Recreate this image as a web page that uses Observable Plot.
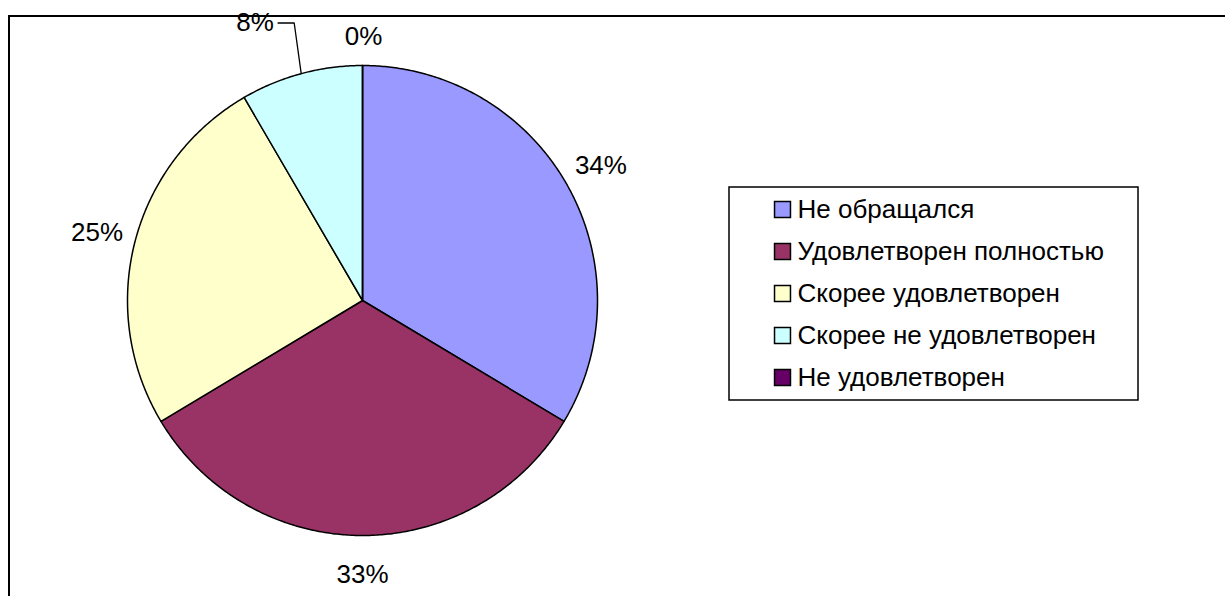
<!DOCTYPE html>
<html><head><meta charset="utf-8">
<script src="https://cdn.jsdelivr.net/npm/d3@7"></script>
<script src="https://cdn.jsdelivr.net/npm/@observablehq/plot@0.6"></script>
<style>html,body{margin:0;padding:0;background:#fff;overflow:hidden}</style>
</head><body><div id="chart"></div>
<script>
// ---- data ----
const categories = ["Не обращался", "Удовлетворен полностью", "Скорее удовлетворен", "Скорее не удовлетворен", "Не удовлетворен"];
const values = [33.6, 32.8, 25.2, 8.4, 0];
const labels = ["34%", "33%", "25%", "8%", "0%"];
const colors = ["#9999FF", "#993366", "#FFFFCC", "#CCFFFF", "#660066"];

// ---- layout ----
const W = 1225, H = 596, CX = 362, CY = 300, R = 235, LABEL_R = R + 39;
const FONT = "'Liberation Sans', Arial, sans-serif";
const FS = 26;
const labelNudge = {3: {dx: -36, dy: -13}, 4: {dx: 1, dy: 10}}; // manual label moves as in reference
const LEG = {x: 729, y: 187, w: 409, h: 213, sqX: 782, txtX: 797, row0: 209, step: 42};

const total = d3.sum(values);
let acc = 0;
const slices = categories.map((c, i) => {
  const a0 = acc / total * 2 * Math.PI; acc += values[i];
  const a1 = acc / total * 2 * Math.PI;
  return {cat: c, a0, a1, mid: (a0 + a1) / 2, label: labels[i], i};
});
const polyPts = [];
slices.forEach(s => {
  polyPts.push({cat: s.cat, x: CX, y: CY});
  const n = Math.max(1, Math.ceil((s.a1 - s.a0) / (Math.PI / 360)));
  for (let k = 0; k <= n; k++) {
    const a = s.a0 + (s.a1 - s.a0) * k / n;
    polyPts.push({cat: s.cat, x: CX + R * Math.sin(a), y: CY - R * Math.cos(a)});
  }
});
const labelPts = slices.map(s => {
  const nud = labelNudge[s.i] || {dx: 0, dy: 0};
  return {label: s.label, i: s.i, mid: s.mid,
    x: CX + LABEL_R * Math.sin(s.mid) + nud.dx, y: CY - LABEL_R * Math.cos(s.mid) + nud.dy};
});
// leader line for moved 8% label
const s8 = slices[3], l8 = labelPts[3];
const ax = CX + R * Math.sin(s8.mid), ay = CY - R * Math.cos(s8.mid);
const leader = [{x: ax, y: ay}, {x: ax - 7, y: l8.y}, {x: l8.x + 23, y: l8.y}];

const legendRows = categories.map((c, i) => ({cat: c, y: LEG.row0 + i * LEG.step}));

const chart = Plot.plot({
  width: W, height: H,
  margin: 0,
  style: {fontFamily: FONT, fontSize: FS + "px", background: "#fff", color: "#000"},
  x: {domain: [0, W], range: [0, W], axis: null},
  y: {domain: [0, H], range: [0, H], axis: null},
  color: {domain: categories, range: colors},
  marks: [
    Plot.rect([0], {x1: 9, y1: 16, x2: W + 10, y2: H + 10, fill: "none", stroke: "#000", strokeWidth: 2}),
    Plot.line(polyPts, {x: "x", y: "y", z: "cat", fill: "cat", stroke: "#000", strokeWidth: 1.5, curve: "linear-closed"}),
    Plot.text(labelPts, {x: "x", y: "y", text: "label", fill: "#000", fontSize: FS, textAnchor: "middle"}),
    Plot.line(leader, {x: "x", y: "y", stroke: "#000", strokeWidth: 1.3}),
    Plot.rect([0], {x1: LEG.x, y1: LEG.y, x2: LEG.x + LEG.w, y2: LEG.y + LEG.h, fill: "#fff", stroke: "#000", strokeWidth: 1.5}),
    Plot.dot(legendRows, {x: LEG.sqX, y: "y", symbol: "square", r: 9, fill: "cat", stroke: "#000", strokeWidth: 1.5}),
    Plot.text(legendRows, {x: LEG.txtX, y: "y", text: "cat", textAnchor: "start", fill: "#000", fontSize: FS})
  ]
});
document.getElementById("chart").appendChild(chart);
</script>
</body></html>
